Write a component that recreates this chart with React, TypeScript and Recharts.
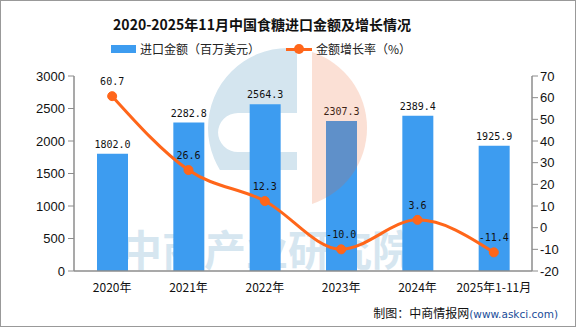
import React from "react";
import {
  ComposedChart,
  Bar,
  Line,
  XAxis,
  YAxis,
  LabelList,
} from "recharts";

// chart data
const years = ["2020年", "2021年", "2022年", "2023年", "2024年", "2025年1-11月"];
const importAmount = [1802.0, 2282.8, 2564.3, 2307.3, 2389.4, 1925.9];
const growthRate = [60.7, 26.6, 12.3, -10.0, 3.6, -11.4];
const leftTicks = [0, 500, 1000, 1500, 2000, 2500, 3000];
const rightTicks = [-20, -10, 0, 10, 20, 30, 40, 50, 60, 70];
const edgeTicks = [0, 1, 2, 3, 4, 5, 6];

const data = years.map((year, i) => ({
  year,
  amount: importAmount[i],
  growth: growthRate[i],
}));

const BAR_COLOR = "#3d9cf0";
const LINE_COLOR = "#ff661a";
const AXIS_COLOR = "#8c8c8c";
const CJK = '"Noto Sans CJK SC", "Noto Sans", sans-serif';
const MONO = '"DejaVu Sans Mono", "Liberation Mono", monospace';

const EmptyTick = () => <g />;

// watermark drawn behind the chart
const Watermark = () => (
  <svg width={576} height={327} style={{ position: "absolute", left: 0, top: 0 }}>
    <defs>
      <clipPath id="leftHalf">
        <rect x={200} y={40} width={97} height={130} />
      </clipPath>
    </defs>
    <path
      clipPath="url(#leftHalf)"
      fillRule="evenodd"
      fill="#d4e5ef"
      d="M288,48 A80,80 0 1,0 288,208 A80,80 0 1,0 288,48 Z
         M238,113 L297,113 L297,152 L238,152 A20,20 0 0,1 218,132 L218,133 A20,20 0 0,1 238,113 Z"
    />
    <text
      x={120}
      y={266}
      fontSize={42}
      fontWeight={700}
      fill="#d6e6f0"
      fontFamily={CJK}
    >
      中商产业研究院
    </text>
  </svg>
);

const OrangeMark = () => (
  <svg
    width={576}
    height={327}
    style={{ position: "absolute", left: 0, top: 0, pointerEvents: "none" }}
  >
    <path d="M312,52 A80,80 0 0,1 312,204 Z" fill="rgb(235,100,45)" opacity={0.2} />
  </svg>
);

export default function App() {
  return (
    <div
      style={{
        position: "absolute",
        left: 0,
        top: 0,
        width: 576,
        height: 327,
        background: "#fff",
        overflow: "hidden",
      }}
    >
      <Watermark />

      {/* title */}
      <div
        style={{
          position: "absolute",
          left: 0,
          width: 524,
          top: 13,
          textAlign: "center",
          fontFamily: CJK,
          fontWeight: 700,
          fontSize: 14,
          color: "#111",
          lineHeight: "22px",
        }}
      >
        2020-2025年11月中国食糖进口金额及增长情况
      </div>

      {/* legend */}
      <div style={{ position: "absolute", left: 111, top: 45, width: 25, height: 8, background: BAR_COLOR }} />
      <div
        style={{
          position: "absolute",
          left: 140,
          top: 41,
          fontFamily: CJK,
          fontSize: 12,
          lineHeight: "16px",
          color: "#222",
        }}
      >
        进口金额（百万美元）
      </div>
      <div style={{ position: "absolute", left: 286, top: 48, width: 26, height: 3, background: LINE_COLOR }} />
      <div
        style={{
          position: "absolute",
          left: 294,
          top: 44,
          width: 10,
          height: 10,
          borderRadius: 5,
          background: LINE_COLOR,
        }}
      />
      <div
        style={{
          position: "absolute",
          left: 316,
          top: 41,
          fontFamily: CJK,
          fontSize: 12,
          lineHeight: "16px",
          color: "#222",
        }}
      >
        金额增长率（%）
      </div>

      <div style={{ position: "absolute", left: 0, top: 0 }}>
        <ComposedChart
          width={576}
          height={327}
          data={data}
          margin={{ top: 76, right: 0, bottom: 26, left: 0 }}
          style={{ background: "transparent" }}
        >
          <XAxis
            xAxisId="edge"
            type="number"
            domain={[0, 6]}
            ticks={edgeTicks}
            height={0}
            axisLine={false}
            tickLine={{ stroke: AXIS_COLOR }}
            tickSize={6}
            tick={<EmptyTick />}
          />
          <XAxis
            xAxisId="cat"
            dataKey="year"
            height={30}
            axisLine={{ stroke: AXIS_COLOR, strokeWidth: 1.5 }}
            tickLine={false}
            tickMargin={6}
            interval={0}
            tick={{ fill: "#111", fontSize: 12, fontFamily: CJK }}
          />
          <YAxis
            yAxisId="left"
            width={74}
            domain={[0, 3000]}
            ticks={leftTicks}
            interval={0}
            axisLine={{ stroke: AXIS_COLOR, strokeWidth: 1.5 }}
            tickLine={{ stroke: AXIS_COLOR }}
            tickSize={6}
            tickMargin={3}
            tick={{ fill: "#111", fontSize: 13, fontFamily: '"Liberation Sans", sans-serif' }}
          />
          <YAxis
            yAxisId="right"
            orientation="right"
            width={44}
            domain={[-20, 70]}
            ticks={rightTicks}
            interval={0}
            axisLine={{ stroke: AXIS_COLOR, strokeWidth: 1.5 }}
            tickLine={{ stroke: AXIS_COLOR }}
            tickSize={6}
            tickMargin={2}
            tick={{ fill: "#111", fontSize: 13, fontFamily: '"Liberation Sans", sans-serif' }}
          />
          <Bar
            xAxisId="cat"
            yAxisId="left"
            dataKey="amount"
            fill={BAR_COLOR}
            barSize={31}
            isAnimationActive={false}
          >
            <LabelList
              dataKey="amount"
              position="top"
              offset={6}
              formatter={(v: number) => v.toFixed(1)}
              style={{ fill: "#111", fontSize: 10, fontFamily: MONO }}
            />
          </Bar>
          <Line
            xAxisId="cat"
            yAxisId="right"
            type="monotone"
            dataKey="growth"
            stroke={LINE_COLOR}
            strokeWidth={3}
            dot={{ r: 4.5, fill: LINE_COLOR, stroke: LINE_COLOR, strokeWidth: 1 }}
            activeDot={false}
            isAnimationActive={false}
          >
            <LabelList
              dataKey="growth"
              position="top"
              offset={11}
              formatter={(v: number) => v.toFixed(1)}
              style={{ fill: "#111", fontSize: 10, fontFamily: MONO }}
            />
          </Line>
        </ComposedChart>
      </div>

      <OrangeMark />

      {/* footer */}
      <div
        style={{
          position: "absolute",
          right: 18,
          top: 305,
          fontFamily: CJK,
          fontSize: 12,
          lineHeight: "16px",
          color: "#111",
          whiteSpace: "nowrap",
        }}
      >
        制图：中商情报网
        <span style={{ color: "#1a4d99", fontFamily: '"DejaVu Sans", sans-serif', fontSize: 10.5 }}>
          (www.askci.com)
        </span>
      </div>

      {/* outer frame */}
      <div
        style={{
          position: "absolute",
          left: 0,
          top: 0,
          width: 576,
          height: 327,
          boxSizing: "border-box",
          border: "1px solid #999",
          pointerEvents: "none",
        }}
      />
    </div>
  );
}
